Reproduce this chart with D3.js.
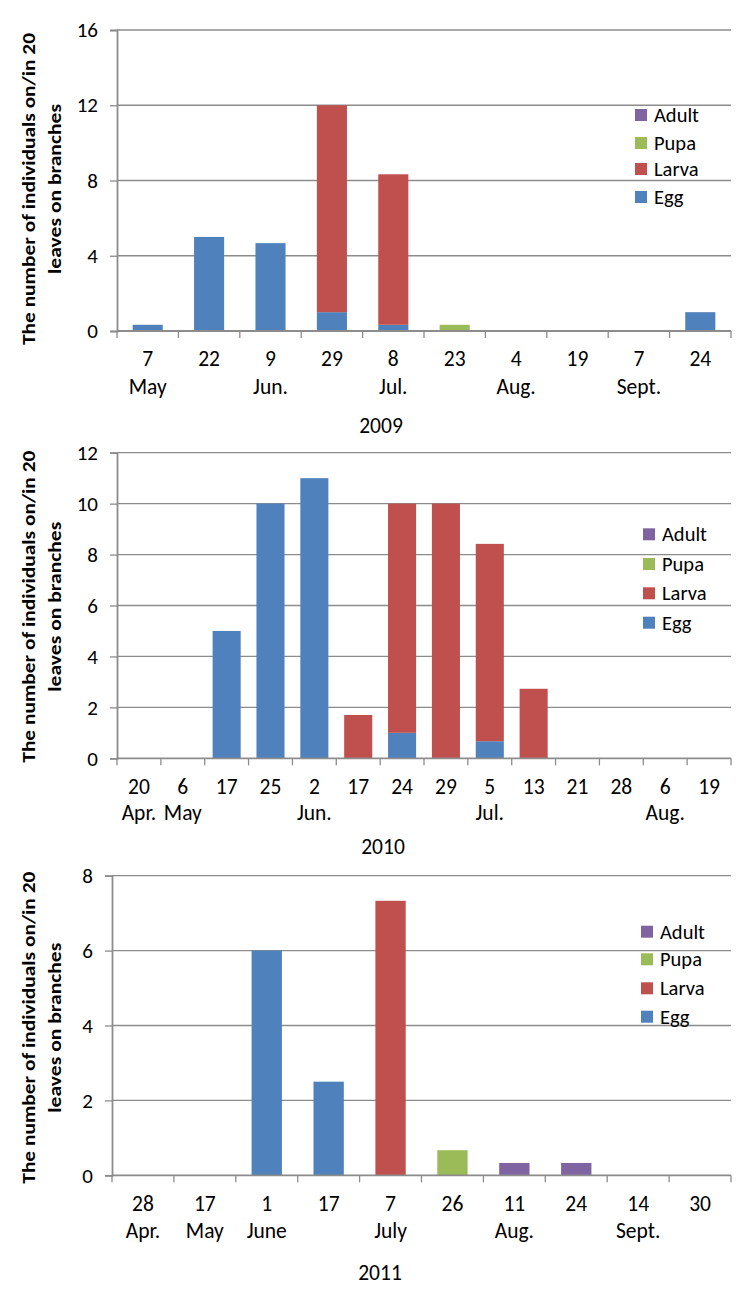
<!DOCTYPE html>
<html>
<head>
<meta charset="utf-8">
<script src="https://cdn.jsdelivr.net/npm/d3@7/dist/d3.min.js"></script>
<style>
  html, body { margin: 0; padding: 0; background: #fff; }
  svg { display: block; }
  text { font-family: Carlito, "DejaVu Sans Condensed", "Liberation Sans Narrow", "DejaVu Sans", sans-serif; fill: #000; }
</style>
</head>
<body>
<svg id="chart" width="742" height="1291"></svg>
<script>
// ---------- DATA ----------
const stages = ["Egg", "Larva", "Pupa", "Adult"];
const legendOrder = ["Adult", "Pupa", "Larva", "Egg"];
const stageColors = ["#4F81BD", "#C0504D", "#9BBB59", "#8064A2"];
const yTitle = ["The number of individuals on/in 20", "leaves on branches"];

// 2009
const days2009   = ["7", "22", "9", "29", "8", "23", "4", "19", "7", "24"];
const months2009 = ["May", "", "Jun.", "", "Jul.", "", "Aug.", "", "Sept.", ""];
const egg2009    = [0.33, 5, 4.67, 1, 0.33, 0, 0, 0, 0, 1];
const larva2009  = [0, 0, 0, 11, 8, 0, 0, 0, 0, 0];
const pupa2009   = [0, 0, 0, 0, 0, 0.33, 0, 0, 0, 0];
const adult2009  = [0, 0, 0, 0, 0, 0, 0, 0, 0, 0];
const yTicks2009 = [0, 4, 8, 12, 16];

// 2010
const days2010   = ["20", "6", "17", "25", "2", "17", "24", "29", "5", "13", "21", "28", "6", "19"];
const months2010 = ["Apr.", "May", "", "", "Jun.", "", "", "", "Jul.", "", "", "", "Aug.", ""];
const egg2010    = [0, 0, 5, 10, 11, 0, 1, 0, 0.67, 0, 0, 0, 0, 0];
const larva2010  = [0, 0, 0, 0, 0, 1.7, 9, 10, 7.75, 2.73, 0, 0, 0, 0];
const pupa2010   = [0, 0, 0, 0, 0, 0, 0, 0, 0, 0, 0, 0, 0, 0];
const adult2010  = [0, 0, 0, 0, 0, 0, 0, 0, 0, 0, 0, 0, 0, 0];
const yTicks2010 = [0, 2, 4, 6, 8, 10, 12];

// 2011
const days2011   = ["28", "17", "1", "17", "7", "26", "11", "24", "14", "30"];
const months2011 = ["Apr.", "May", "June", "", "July", "", "Aug.", "", "Sept.", ""];
const egg2011    = [0, 0, 6, 2.5, 0, 0, 0, 0, 0, 0];
const larva2011  = [0, 0, 0, 0, 7.33, 0, 0, 0, 0, 0];
const pupa2011   = [0, 0, 0, 0, 0, 0.67, 0, 0, 0, 0];
const adult2011  = [0, 0, 0, 0, 0, 0, 0.33, 0.33, 0, 0];
const yTicks2011 = [0, 2, 4, 6, 8];

// ---------- LAYOUT ----------
const charts = [
  { year: "2009", days: days2009, months: months2009, series: [egg2009, larva2009, pupa2009, adult2009], ticks: yTicks2009,
    left: 117, right: 731, top: 30, bottom: 331, pad: 0.51,
    dayY: 359, monthY: 387, yearY: 426, yearX: 381,
    legX: 635, legY: [115, 143, 169, 197], titleY: 189 },
  { year: "2010", days: days2010, months: months2010, series: [egg2010, larva2010, pupa2010, adult2010], ticks: yTicks2010,
    left: 117, right: 731, top: 452.7, bottom: 758.3, pad: 0.36,
    dayY: 786.7, monthY: 813.3, yearY: 847.3, yearX: 383,
    legX: 643, legY: [534.3, 564, 593.3, 622.7], titleY: 606.7 },
  { year: "2011", days: days2011, months: months2011, series: [egg2011, larva2011, pupa2011, adult2011], ticks: yTicks2011,
    left: 112, right: 731, top: 875.7, bottom: 1175.3, pad: 0.51,
    dayY: 1204, monthY: 1231, yearY: 1273.3, yearX: 380,
    legX: 641, legY: [931.7, 959.3, 988.3, 1016.7], titleY: 1027.7 }
];

const svg = d3.select("#chart");
const color = d3.scaleOrdinal().domain(stages).range(stageColors);
const gridColor = "#8c8c8c";

charts.forEach(c => {
  const g = svg.append("g");
  const idx = d3.range(c.days.length);
  const rows = idx.map(i => {
    const r = { i: i };
    stages.forEach((s, k) => r[s] = c.series[k][i]);
    return r;
  });
  const x = d3.scaleBand().domain(idx).range([c.left, c.right]).paddingInner(c.pad).paddingOuter(c.pad / 2);
  const y = d3.scaleLinear().domain([0, d3.max(c.ticks)]).range([c.bottom, c.top]);

  // gridlines
  g.append("g").selectAll("line").data(c.ticks.filter(t => t > 0)).join("line")
    .attr("x1", c.left).attr("x2", c.right)
    .attr("y1", d => y(d)).attr("y2", d => y(d))
    .attr("stroke", gridColor).attr("stroke-width", 1.3);

  // bars
  const stacked = d3.stack().keys(stages)(rows);
  g.append("g").selectAll("g").data(stacked).join("g")
    .attr("fill", d => color(d.key))
    .selectAll("rect").data(d => d.filter(p => p[1] - p[0] > 0)).join("rect")
    .attr("x", d => x(d.data.i))
    .attr("width", x.bandwidth())
    .attr("y", d => y(d[1]))
    .attr("height", d => y(d[0]) - y(d[1]));

  // y axis
  const yAxis = g.append("g").attr("transform", `translate(${c.left},0)`)
    .call(d3.axisLeft(y).tickValues(c.ticks).tickSize(7).tickPadding(12).tickFormat(d3.format("d")));
  yAxis.select(".domain").attr("stroke", gridColor).attr("stroke-width", 1.8);
  yAxis.selectAll(".tick line").attr("stroke", gridColor).attr("stroke-width", 1.3);
  yAxis.selectAll(".tick text").style("font-size", "21px").attr("fill", "#000");

  // x axis (baseline + boundary ticks)
  const bounds = d3.range(c.days.length + 1).map(k => c.left + k * (c.right - c.left) / c.days.length);
  g.append("line").attr("x1", c.left).attr("x2", c.right).attr("y1", c.bottom).attr("y2", c.bottom)
    .attr("stroke", gridColor).attr("stroke-width", 1.8);
  g.append("g").selectAll("line").data(bounds).join("line")
    .attr("x1", d => d).attr("x2", d => d).attr("y1", c.bottom).attr("y2", c.bottom + 7)
    .attr("stroke", gridColor).attr("stroke-width", 1.3);

  const cx = i => x(i) + x.bandwidth() / 2;
  g.append("g").selectAll("text").data(idx).join("text")
    .attr("x", cx).attr("y", c.dayY).attr("text-anchor", "middle").attr("dominant-baseline", "central")
    .style("font-size", "21.5px").text(i => c.days[i]);
  g.append("g").selectAll("text").data(idx.filter(i => c.months[i] !== "")).join("text")
    .attr("x", cx).attr("y", c.monthY).attr("text-anchor", "middle").attr("dominant-baseline", "central")
    .style("font-size", "21.5px").text(i => c.months[i]);

  g.append("text").attr("x", c.yearX).attr("y", c.yearY).attr("text-anchor", "middle")
    .attr("dominant-baseline", "central").style("font-size", "21.5px").text(c.year);

  // legend
  const leg = g.append("g");
  legendOrder.forEach((s, k) => {
    leg.append("rect").attr("x", c.legX).attr("y", c.legY[k] - 6).attr("width", 12).attr("height", 12).attr("fill", color(s));
    leg.append("text").attr("x", c.legX + 19).attr("y", c.legY[k]).attr("dominant-baseline", "central")
      .style("font-size", "20.5px").text(s);
  });

  // y title
  const tx = [28, 54];
  const tl = [312, 170];
  yTitle.forEach((t, k) => {
    g.append("text")
      .attr("transform", `translate(${tx[k]},${c.titleY}) rotate(-90)`)
      .attr("text-anchor", "middle").attr("dominant-baseline", "central")
      .style("font-size", "19px").style("font-weight", "bold")
      .attr("textLength", tl[k]).attr("lengthAdjust", "spacingAndGlyphs")
      .text(t);
  });
});
</script>
</body>
</html>
